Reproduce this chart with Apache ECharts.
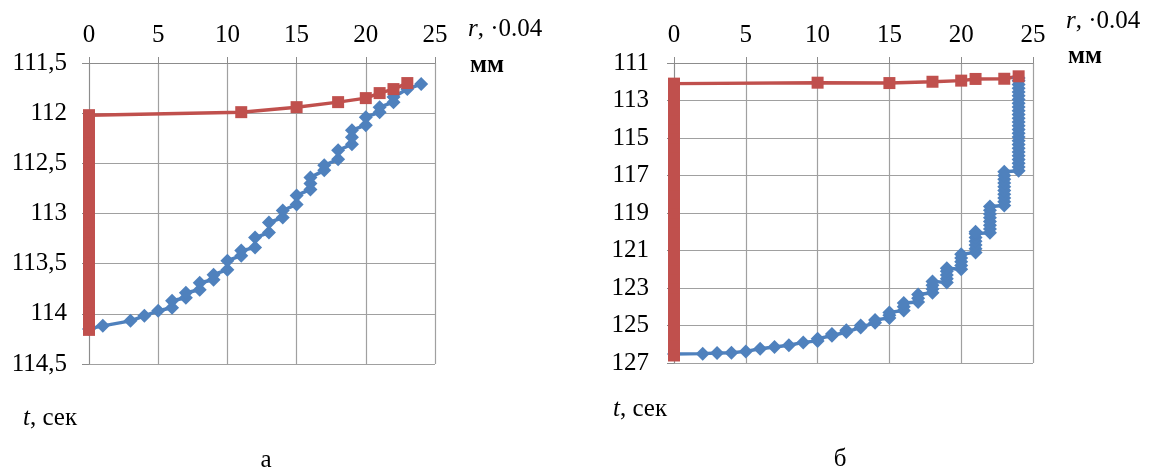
<!DOCTYPE html>
<html><head><meta charset="utf-8">
<script src="https://cdn.jsdelivr.net/npm/echarts@6/dist/echarts.min.js"></script>
<style>html,body{margin:0;padding:0;background:#fff}#c{width:1158px;height:473px}</style>
</head><body><div id="c"></div>
<script>
// ---- data (r in units of 0.04 mm, t in seconds) ----
const blueA = [[0,114.15],[1,114.12],[3,114.07],[4,114.02],[5,113.97],
  [6,113.94],[6,113.87],[7,113.84],[7,113.79],[8,113.76],[8,113.69],
  [9,113.66],[9,113.61],[10,113.56],[10,113.47],[11,113.42],[11,113.37],
  [12,113.34],[12,113.24],[13,113.19],[13,113.09],[14,113.04],[14,112.97],
  [15,112.91],[15,112.82],[16,112.76],[16,112.7],[16,112.64],[17,112.57],[17,112.52],
  [18,112.46],[18,112.37],[19,112.31],[19,112.24],[19,112.17],[20,112.12],[20,112.04],
  [21,111.99],[21,111.94],[22,111.89],[22,111.84],[23,111.76],[24,111.71]];
const redA = [[23,111.70],[22,111.76],[21,111.80],[20,111.85],[18,111.89],[15,111.94],[11,111.99],
  [0,112.02],[0,112.1],[0,112.2],[0,112.3],[0,112.4],[0,112.5],[0,112.6],[0,112.7],[0,112.8],
  [0,112.9],[0,113.0],[0,113.1],[0,113.2],[0,113.3],[0,113.4],[0,113.5],[0,113.6],[0,113.7],
  [0,113.8],[0,113.9],[0,114.0],[0,114.1],[0,114.16]];
const blueB = [[0,126.52],[2,126.5],[3,126.47],[4,126.45],[5,126.38],[6,126.24],[7,126.15],
  [8,126.05],[9,125.9],[10,125.82],[10,125.7],[11,125.55],[11,125.45],[12,125.35],[12,125.25],
  [13,125.1],[13,125.0],[14,124.85],[14,124.7],
  [15,124.6],[15,124.45],[15,124.3],
  [16,124.2],[16,124.0],[16,123.8],
  [17,123.75],[17,123.55],[17,123.35],
  [18,123.25],[18,123.05],[18,122.85],[18,122.65],
  [19,122.7],[19,122.5],[19,122.3],[19,122.1],[19,121.95],
  [20,122.0],[20,121.8],[20,121.6],[20,121.4],[20,121.2],
  [21,121.1],[21,120.9],[21,120.7],[21,120.5],[21,120.3],[21,120.1],[21,120.0],
  [22,120.05],[22,119.85],[22,119.65],[22,119.45],[22,119.25],[22,119.05],[22,118.85],[22,118.65],
  [23,118.6],[23,118.4],[23,118.2],[23,118.0],[23,117.8],[23,117.6],[23,117.4],[23,117.2],[23,117.0],[23,116.8],
  [24,116.75],[24,116.55],[24,116.35],[24,116.15],[24,115.95],[24,115.75],[24,115.55],[24,115.35],
  [24,115.15],[24,114.95],[24,114.75],[24,114.55],[24,114.35],[24,114.15],[24,113.95],[24,113.75],
  [24,113.55],[24,113.35],[24,113.15],[24,112.95],[24,112.75],[24,112.55],[24,112.35],[24,112.15],
  [24,111.95],[24,111.8]];
const redB = [[24,111.71],[23,111.84],[21,111.85],[20,111.94],[18,112.0],[15,112.07],[10,112.05],
  [0,112.1],[0,112.6],[0,113.1],[0,113.6],[0,114.1],[0,114.6],[0,115.1],[0,115.6],[0,116.1],
  [0,116.6],[0,117.1],[0,117.6],[0,118.1],[0,118.6],[0,119.1],[0,119.6],[0,120.1],[0,120.6],
  [0,121.1],[0,121.6],[0,122.1],[0,122.6],[0,123.1],[0,123.6],[0,124.1],[0,124.6],[0,125.1],
  [0,125.6],[0,126.1],[0,126.6]];
const xRange = [0, 25, 5];
const yRangeA = [111.5, 114.5, 0.5];
const yRangeB = [111, 127, 2];

const BLUE = '#4F81BD', RED = '#C0504D';
const FONT = 'Liberation Serif';
const gridColor = '#a0a0a0';
const FS = 25;

function xAx(g){
  return {gridIndex:g, type:'value', position:'top', min:xRange[0], max:xRange[1], interval:xRange[2],
    axisLine:{show:true, onZero:false, lineStyle:{color:'#8c8c8c', width:1}},
    axisTick:{show:true, length:6, lineStyle:{color:'#8c8c8c'}},
    axisLabel:{fontFamily:FONT, fontSize:FS, color:'#000', margin:15},
    splitLine:{show:true, lineStyle:{color:gridColor, width:1.2}}};
}
function yAx(g, rng, margin){
  return {gridIndex:g, type:'value', inverse:true, min:rng[0], max:rng[1], interval:rng[2],
    axisLine:{show:true, onZero:false, lineStyle:{color:'#8c8c8c', width:1}},
    axisTick:{show:true, length:7, lineStyle:{color:'#8c8c8c'}},
    axisLabel:{fontFamily:FONT, fontSize:FS, color:'#000', margin:margin,
      formatter:v => String(v).replace('.', ',')},
    splitLine:{show:true, lineStyle:{color:gridColor, width:1.2}}};
}
function ser(data, g, color, sym, size){
  return {type:'line', xAxisIndex:g, yAxisIndex:g, data:data, symbol:sym, symbolSize:size,
    showSymbol:true, showAllSymbol:true, clip:false, animation:false,
    lineStyle:{color:color, width:3.5}, itemStyle:{color:color},
    emphasis:{disabled:true}};
}
function txt(x, y, text, rich, align, weight){
  return {type:'text', x:x, y:y, style:{text:text, rich:rich, fill:'#000', align:align||'left', verticalAlign:'middle',
    fontFamily:FONT, fontSize:FS, fontWeight:weight||'normal'}};
}
const richR = {i:{fontFamily:FONT, fontSize:FS, fontStyle:'italic'}, n:{fontFamily:FONT, fontSize:FS}};

const chart = echarts.init(document.getElementById('c'), null, {renderer:'canvas'});
chart.setOption({
  animation:false,
  backgroundColor:'#fff',
  grid:[{left:89, top:63, width:346, height:301},{left:674, top:63, width:359, height:300}],
  xAxis:[xAx(0), xAx(1)],
  yAxis:[yAx(0, yRangeA, 22), yAx(1, yRangeB, 25)],
  series:[ser(blueA,0,BLUE,'diamond',14), ser(redA,0,RED,'rect',12), ser(blueB,1,BLUE,'diamond',14), ser(redB,1,RED,'rect',12)],
  graphic:[
    txt(468, 29, '{i|r}{n|, ·0.04}', richR),
    txt(470, 66, 'мм', null, 'left', 'bold'),
    txt(1066, 21, '{i|r}{n|, ·0.04}', richR),
    txt(1068, 57, 'мм', null, 'left', 'bold'),
    txt(23, 418, '{i|t}{n|, сек}', richR),
    txt(613, 409, '{i|t}{n|, сек}', richR),
    txt(266, 460, 'а', null, 'center'),
    txt(840, 459, 'б', null, 'center')
  ]
});
</script></body></html>
